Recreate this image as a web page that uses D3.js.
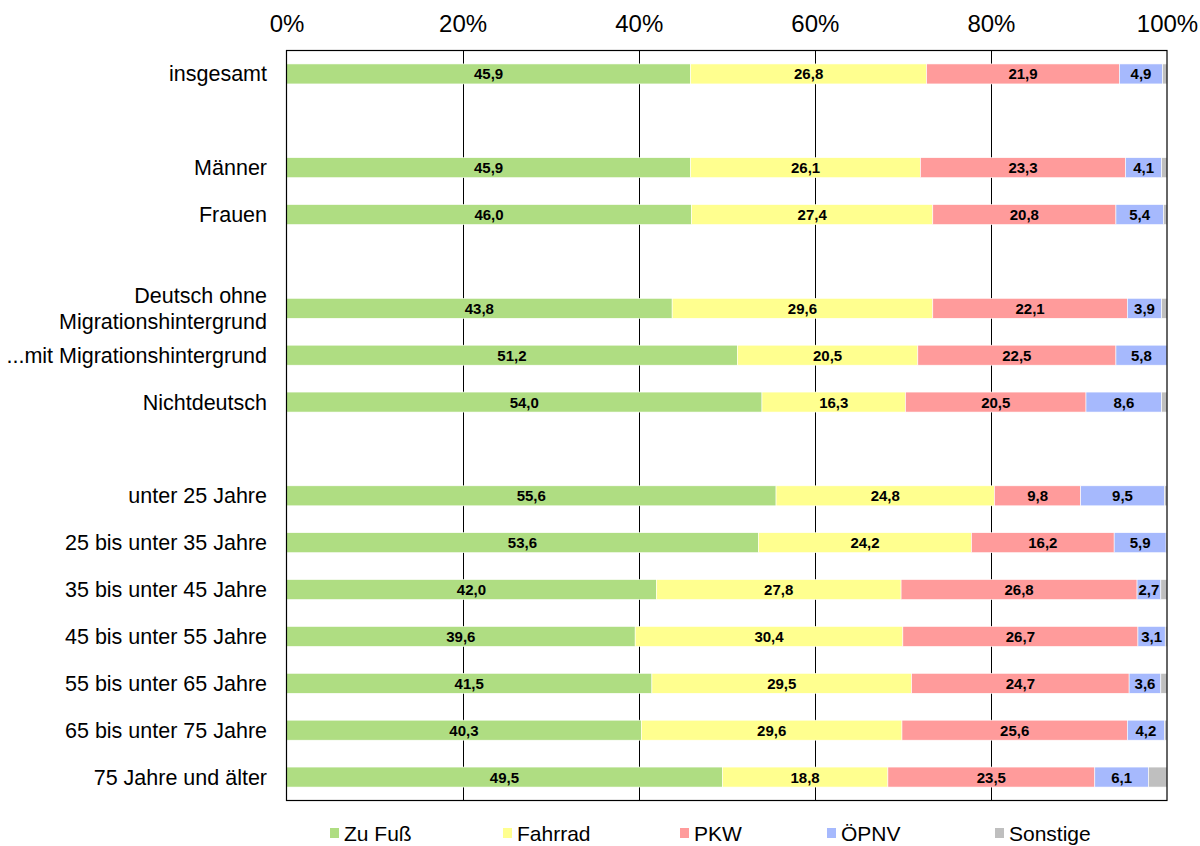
<!DOCTYPE html>
<html><head><meta charset="utf-8">
<script src="https://cdn.jsdelivr.net/npm/d3@7"></script>
<style>body{margin:0;background:#fff;font-family:"Liberation Sans",Arial,sans-serif;}</style>
</head><body>
<svg id="c" width="1200" height="846"></svg>
<script>
const categories = ["insgesamt","_b1","Männer","Frauen","_b2","Deutsch ohne|Migrationshintergrund","...mit Migrationshintergrund","Nichtdeutsch","_b3","unter 25 Jahre","25 bis unter 35 Jahre","35 bis unter 45 Jahre","45 bis unter 55 Jahre","55 bis unter 65 Jahre","65 bis unter 75 Jahre","75 Jahre und älter"];
const seriesNames = ["Zu Fuß","Fahrrad","PKW","ÖPNV","Sonstige"];
const seriesColors = ["#afdd82","#ffff8f","#ff9b9b","#a6b9fd","#bfbfbf"];
const zuFuss   = [45.9,null,45.9,46.0,null,43.8,51.2,54.0,null,55.6,53.6,42.0,39.6,41.5,40.3,49.5];
const fahrrad  = [26.8,null,26.1,27.4,null,29.6,20.5,16.3,null,24.8,24.2,27.8,30.4,29.5,29.6,18.8];
const pkw      = [21.9,null,23.3,20.8,null,22.1,22.5,20.5,null,9.8,16.2,26.8,26.7,24.7,25.6,23.5];
const oepnv    = [4.9,null,4.1,5.4,null,3.9,5.8,8.6,null,9.5,5.9,2.7,3.1,3.6,4.2,6.1];
const sonstige = [0.5,null,0.6,0.4,null,0.6,0.0,0.6,null,0.3,0.1,0.7,0.2,0.7,0.3,2.1];
const tickValues = [0,20,40,60,80,100];
const series = [zuFuss,fahrrad,pkw,oepnv,sonstige];

const svg = d3.select("#c");
const L=286.5, R=1167, T=50.5, B=800.5;
const x = d3.scaleLinear().domain([0,100]).range([L,R]);
const y = d3.scaleBand().domain(categories).range([T,B]);
const barH = 20;

// gridlines
svg.append("g").selectAll("line").data(tickValues.slice(1,-1)).join("line")
  .attr("x1",d=>Math.round(x(d))+0.5).attr("x2",d=>Math.round(x(d))+0.5)
  .attr("y1",T).attr("y2",B).attr("stroke","#000").attr("stroke-width",1);

// bars
categories.forEach((c,i)=>{
  if (zuFuss[i]==null) return;
  let cum=0;
  const yc = y(c)+y.bandwidth()/2;
  series.forEach((s,k)=>{
    const v=s[i]; if(!v) return;
    const x0=x(cum), x1=x(Math.min(100,cum+v));
    svg.append("rect").attr("x",x0).attr("y",yc-barH/2).attr("width",Math.max(0,x1-x0)).attr("height",barH)
      .attr("fill",seriesColors[k]).attr("stroke","#fff").attr("stroke-width",0.6);
    if (k<4) {
      svg.append("text").attr("x",(x0+x1)/2).attr("y",yc+5.5).attr("text-anchor","middle")
        .attr("font-size",15).attr("font-weight","bold").attr("fill","#000")
        .text(v.toFixed(1).replace(".",","));
    }
    cum+=v;
  });
});

// frame
svg.append("rect").attr("x",L).attr("y",T).attr("width",R-L).attr("height",B-T)
  .attr("fill","none").attr("stroke","#000").attr("stroke-width",1.2);

// top axis
const ax = d3.axisTop(x).tickValues(tickValues).tickFormat(d=>d+"%").tickSize(0).tickPadding(18.5);
const g = svg.append("g").attr("transform",`translate(0,${T})`).call(ax);
g.select(".domain").remove();
g.selectAll("text").attr("font-size",24).attr("font-family","Liberation Sans, Arial, sans-serif").attr("fill","#000");

// category labels
categories.forEach(c=>{
  if (c.startsWith("_b")) return;
  const yc = y(c)+y.bandwidth()/2;
  const parts = c.split("|");
  const t = svg.append("text").attr("text-anchor","end").attr("font-size",21.5).attr("fill","#000");
  parts.forEach((p,j)=>{
    t.append("tspan").attr("x",267).attr("y",yc+7.5+(j-(parts.length-1)/2)*26).text(p);
  });
});

// legend
const legX=[330,503,680,827,995];
seriesNames.forEach((n,k)=>{
  svg.append("rect").attr("x",legX[k]).attr("y",828).attr("width",9).attr("height",10).attr("fill",seriesColors[k]);
  svg.append("text").attr("x",legX[k]+14).attr("y",840.5).attr("font-size",21).attr("fill","#000").text(n);
});
</script>
</body></html>
